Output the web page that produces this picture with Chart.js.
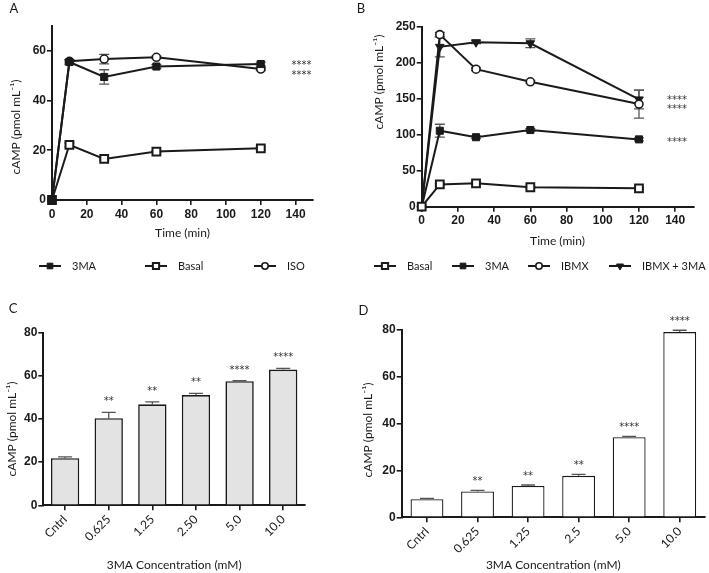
<!DOCTYPE html>
<html>
<head>
<meta charset="utf-8">
<script src="https://cdn.jsdelivr.net/npm/chart.js@4.4.1/dist/chart.umd.min.js"></script>
<style>
  html, body { margin: 0; padding: 0; background: #fff; }
  #wrap { position: relative; width: 709px; height: 573px; overflow: hidden; }
  canvas { position: absolute; }
</style>
</head>
<body>
<div id="wrap">
  <canvas id="chartA" width="355" height="285" style="left:0;top:0"></canvas>
  <canvas id="chartB" width="354" height="285" style="left:355px;top:0"></canvas>
  <canvas id="chartC" width="355" height="288" style="left:0;top:285px"></canvas>
  <canvas id="chartD" width="354" height="288" style="left:355px;top:285px"></canvas>
</div>
<script>
// ---- data ----
// A: cAMP time course, 3MA / basal / ISO
const timeA = [0, 10, 30, 60, 120];
const a3MA = [0, 55.5, 49.5, 53.7, 54.7];
const a3MAErr = [0, 1.0, 2.9, 0.8, 0.8];
const aBasal = [0, 22.2, 16.5, 19.5, 20.8];
const aBasalErr = [0, 0.8, 0.5, 0.4, 0.6];
const aISO = [0, 55.8, 56.7, 57.4, 52.7];
const aISOErr = [0, 0.7, 1.9, 0.5, 0.6];
const starsA = ['****', '****'];
const starsAY = [55.6, 51.3];

// B: cAMP time course with IBMX
const timeB = [0, 10, 30, 60, 120];
const bBasal = [0, 31, 32.5, 27, 25.5];
const bBasalErr = [0, 1.5, 1.5, 1, 1];
const b3MA = [0, 105.5, 96.5, 106.5, 93.5];
const b3MAErr = [0, 9, 2, 2, 2];
const bIBMX = [0, 239, 191, 173.5, 142.5];
const bIBMXErr = [0, 3, 2, 2, 19.5];
const bIBMX3MA = [0, 222, 228.5, 227, 149];
const bIBMX3MAErr = [0, 14, 2, 6, 13];
const starsB = ['****', '****', '****'];
const starsBY = [152.8, 139.9, 93.6];

// C / D: dose response to 3MA
const concC = ['Cntrl', '0.625', '1.25', '2.50', '5.0', '10.0'];
const valC = [21.8, 40.4, 46.8, 51.1, 57.5, 62.9];
const errC = [0.6, 2.7, 1.1, 0.8, 0.3, 0.6];
const sigC = ['', '**', '**', '**', '****', '****'];
const concD = ['Cntrl', '0.625', '1.25', '2.5', '5.0', '10.0'];
const valD = [7.7, 11.0, 13.4, 17.7, 34.2, 79.1];
const errD = [0.4, 0.5, 0.4, 0.6, 0.4, 0.8];
const sigD = ['', '**', '**', '**', '****', '****'];

// tick values
const ticksTime = [0, 20, 40, 60, 80, 100, 120, 140];
const ticksAY = [0, 20, 40, 60];
const ticksBY = [0, 50, 100, 150, 200, 250];
const ticksBarY = [0, 20, 40, 60, 80];

// ---- style ----
const INK = '#1a1a1a';
const SANS = 'Lato, "Liberation Sans", Arial, sans-serif';
const tickFont = { family: '"Liberation Sans", Arial, sans-serif', size: 12, weight: 'bold' };
const titleFont = { family: SANS, size: 12 };
const yTitle = 'cAMP (pmol mL\u207B\u00B9)';
Chart.defaults.font.family = SANS;
Chart.defaults.color = INK;

function fixBox(w, h) {
  return s => { if (w !== undefined) s.width = w; if (h !== undefined) s.height = h; };
}
function setTicks(arr) {
  return s => { s.ticks = arr.map(v => ({ value: v })); };
}
const gridStyle = { display: true, drawOnChartArea: false, drawTicks: true, tickLength: 5, color: INK, lineWidth: 1.6 };
const borderStyle = { display: true, color: INK, width: 2 };

function drawMarker(ctx, ds, x, y, k) {
  const r = ds.pointRadius * k;
  ctx.fillStyle = ds.pointBackgroundColor;
  ctx.strokeStyle = ds.pointBorderColor;
  ctx.lineWidth = ds.pointBorderWidth;
  ctx.beginPath();
  if (ds.pointStyle === 'rect') {
    const s = r * Math.SQRT1_2;
    ctx.rect(x - s, y - s, 2 * s, 2 * s);
  } else if (ds.pointStyle === 'circle') {
    ctx.arc(x, y, r, 0, Math.PI * 2);
  } else {
    ctx.moveTo(x, y + r);
    ctx.lineTo(x - r * 0.866, y - r / 2);
    ctx.lineTo(x + r * 0.866, y - r / 2);
    ctx.closePath();
  }
  ctx.fill();
  ctx.stroke();
}

// error bars (SEM), drawn under markers
const errorBars = {
  id: 'errorBars',
  beforeDatasetsDraw(chart) {
    const ctx = chart.ctx;
    chart.data.datasets.forEach((ds, i) => {
      if (!ds.errors) return;
      const meta = chart.getDatasetMeta(i);
      const ys = chart.scales.y;
      ctx.save();
      ctx.strokeStyle = '#555';
      ctx.lineWidth = 1.3;
      meta.data.forEach((el, j) => {
        const e = ds.errors[j];
        if (!e) return;
        const v = ds.data[j];
        const val = typeof v === 'object' ? v.y : v;
        const top = ys.getPixelForValue(val + e);
        const bot = ds.upOnly ? el.y : ys.getPixelForValue(val - e);
        const w = ds.capWidth || 5;
        ctx.beginPath();
        ctx.moveTo(el.x, top); ctx.lineTo(el.x, bot);
        ctx.moveTo(el.x - w, top); ctx.lineTo(el.x + w, top);
        if (!ds.upOnly) { ctx.moveTo(el.x - w, bot); ctx.lineTo(el.x + w, bot); }
        ctx.stroke();
      });
      ctx.restore();
    });
  }
};

// significance stars above bars
const sigLabels = {
  id: 'sigLabels',
  afterDatasetsDraw(chart) {
    const ctx = chart.ctx;
    chart.data.datasets.forEach((ds, i) => {
      if (!ds.sig) return;
      const meta = chart.getDatasetMeta(i);
      const ys = chart.scales.y;
      ctx.save();
      ctx.fillStyle = '#333';
      ctx.font = '10px "DejaVu Sans", sans-serif';
      ctx.textAlign = 'center';
      ctx.textBaseline = 'alphabetic';
      meta.data.forEach((el, j) => {
        if (!ds.sig[j]) return;
        const top = ys.getPixelForValue(ds.data[j] + (ds.errors ? ds.errors[j] : 0));
        ctx.fillText(ds.sig[j], el.x, top - ds.sigGap + 6);
      });
      ctx.restore();
    });
  }
};

// legend with line + marker, as in the original figure
const lineLegend = {
  id: 'lineLegend',
  afterDraw(chart, args, opts) {
    if (!opts || !opts.x) return;
    const ctx = chart.ctx;
    chart.data.datasets.forEach((ds, i) => {
      const cx = opts.x[i], cy = opts.y;
      ctx.save();
      ctx.strokeStyle = ds.borderColor;
      ctx.lineWidth = 2;
      ctx.beginPath(); ctx.moveTo(cx - 11, cy); ctx.lineTo(cx + 11, cy); ctx.stroke();
      drawMarker(ctx, ds, cx, cy, 0.8);
      ctx.fillStyle = INK;
      ctx.font = '11px ' + SANS;
      ctx.textAlign = 'left';
      ctx.textBaseline = 'middle';
      ctx.fillText(ds.label, cx + 22, cy);
      ctx.restore();
    });
  }
};

// free text: panel letter, y title, stars
const annots = {
  id: 'annots',
  afterDraw(chart, args, opts) {
    if (!opts || !opts.items) return;
    const ctx = chart.ctx;
    opts.items.forEach(it => {
      const x = it.xv !== undefined ? chart.scales.x.getPixelForValue(it.xv) : it.x;
      let y = it.yv !== undefined ? chart.scales.y.getPixelForValue(it.yv) : it.y;
      ctx.save();
      ctx.fillStyle = it.color || INK;
      ctx.font = it.font || ('12px ' + SANS);
      ctx.textAlign = 'center';
      ctx.textBaseline = it.star ? 'alphabetic' : 'middle';
      if (it.star) y += 6;
      ctx.translate(x, y);
      if (it.rot) ctx.rotate(it.rot);
      ctx.fillText(it.text, 0, 0);
      ctx.restore();
    });
  }
};
Chart.register(errorBars, sigLabels, lineLegend, annots);

function series(label, times, values, errs, style) {
  return Object.assign({
    label,
    data: values.map((v, i) => ({ x: times[i], y: v })),
    errors: errs,
    borderColor: INK,
    borderWidth: 2,
    pointBorderColor: INK,
    tension: 0,
    clip: false,
    capWidth: 5
  }, style);
}
const filledSq = { pointStyle: 'rect', pointRadius: 5, pointBackgroundColor: INK, pointBorderWidth: 1 };
const openSq = { pointStyle: 'rect', pointRadius: 5.5, pointBackgroundColor: '#fff', pointBorderWidth: 2 };
const openCircle = { pointStyle: 'circle', pointRadius: 4, pointBackgroundColor: '#fff', pointBorderWidth: 1.6 };
const downTri = { pointStyle: 'triangle', rotation: 180, pointRadius: 5, pointBackgroundColor: INK, pointBorderWidth: 1 };

function lineChart(id, datasets, o) {
  return new Chart(document.getElementById(id), {
    type: 'line',
    data: { datasets },
    options: {
      responsive: false,
      animation: false,
      layout: { padding: o.pad },
      scales: {
        x: {
          type: 'linear', min: 0, max: 150,
          afterBuildTicks: setTicks(ticksTime),
          afterFit: fixBox(undefined, o.xh),
          ticks: { font: tickFont, color: INK, padding: 2, maxRotation: 0 },
          grid: gridStyle, border: borderStyle,
          title: { display: true, text: 'Time (min)', font: titleFont, color: INK, padding: 0 }
        },
        y: {
          min: 0, max: o.yMax,
          afterBuildTicks: setTicks(o.yTicks),
          afterFit: fixBox(o.yw),
          ticks: { font: tickFont, color: INK, padding: 1 },
          grid: gridStyle, border: borderStyle
        }
      },
      plugins: {
        legend: { display: false },
        tooltip: { enabled: false },
        lineLegend: { x: o.legendX, y: 266 },
        annots: { items: o.items }
      }
    }
  });
}

function barChart(id, labels, values, errs, sigs, o) {
  return new Chart(document.getElementById(id), {
    type: 'bar',
    data: {
      labels,
      datasets: [{
        data: values, errors: errs, upOnly: true, sig: sigs, sigGap: o.gap, capWidth: o.cap,
        backgroundColor: o.fill, borderColor: INK, borderWidth: o.bw,
        barPercentage: 0.65, categoryPercentage: 1
      }]
    },
    options: {
      responsive: false,
      animation: false,
      layout: { padding: o.pad },
      scales: {
        x: {
          afterFit: fixBox(undefined, o.xh),
          ticks: { font: { family: SANS, size: 12 }, color: INK, minRotation: 45, maxRotation: 45, padding: 2 },
          grid: Object.assign({}, gridStyle, { offset: false }), border: borderStyle,
          title: { display: true, text: '3MA Concentration (mM)', font: titleFont, color: INK, padding: 0 }
        },
        y: {
          min: 0, max: 80,
          afterBuildTicks: setTicks(ticksBarY),
          afterFit: fixBox(o.yw),
          ticks: { font: tickFont, color: INK, padding: 1 },
          grid: gridStyle, border: borderStyle
        }
      },
      plugins: {
        legend: { display: false },
        tooltip: { enabled: false },
        annots: { items: o.items }
      }
    }
  });
}

const starFont = '10px "DejaVu Sans", sans-serif';
const letterFont = '13px ' + SANS;

lineChart('chartA', [
  series('3MA', timeA, a3MA, a3MAErr, filledSq),
  series('Basal', timeA, aBasal, aBasalErr, openSq),
  series('ISO', timeA, aISO, aISOErr, openCircle)
], {
  pad: { left: 0, top: 26, right: 42, bottom: 45 },
  yw: 52, xh: 40, yMax: 70, yTicks: ticksAY,
  legendX: [50, 156, 265],
  items: [
    { text: 'A', x: 14, y: 9, font: letterFont },
    { text: yTitle, x: 16, y: 127, rot: -Math.PI / 2 },
    ...starsA.map((s, i) => ({ text: s, xv: 143.4, yv: starsAY[i], star: true, font: starFont, color: '#333' }))
  ]
});

lineChart('chartB', [
  series('Basal', timeB, bBasal, bBasalErr, openSq),
  series('3MA', timeB, b3MA, b3MAErr, filledSq),
  series('IBMX', timeB, bIBMX, bIBMXErr, openCircle),
  series('IBMX + 3MA', timeB, bIBMX3MA, bIBMX3MAErr, downTri)
], {
  pad: { left: 0, top: 26.7, right: 15.7, bottom: 37 },
  yw: 66.7, xh: 41.3, yMax: 250, yTicks: ticksBY,
  legendX: [30, 108, 184, 265],
  items: [
    { text: 'B', x: 6, y: 9, font: letterFont },
    { text: yTitle, x: 24, y: 82, rot: -Math.PI / 2 },
    ...starsB.map((s, i) => ({ text: s, xv: 141, yv: starsBY[i], star: true, font: starFont, color: '#333' }))
  ]
});

barChart('chartC', concC, valC, errC, sigC, {
  pad: { left: 0, top: 47.7, right: 50, bottom: 0.8 },
  yw: 43.3, xh: 66.9, fill: '#e3e3e3', bw: 1.6, cap: 7, gap: 14,
  items: [
    { text: 'C', x: 13, y: 24, font: letterFont },
    { text: yTitle, x: 12, y: 144, rot: -Math.PI / 2 }
  ]
});

barChart('chartD', concD, valD, errD, sigD, {
  pad: { left: 0, top: 45, right: 4, bottom: 0.8 },
  yw: 46.7, xh: 54.9, fill: '#ffffff', bw: 1.3, cap: 7, gap: 12,
  items: [
    { text: 'D', x: 8.5, y: 26, font: letterFont },
    { text: yTitle, x: 13, y: 145, rot: -Math.PI / 2 }
  ]
});
</script>
</body>
</html>
